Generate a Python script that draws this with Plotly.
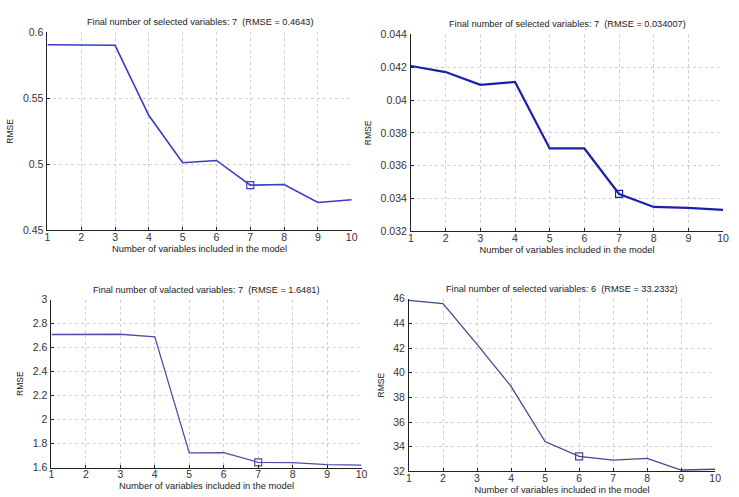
import plotly.graph_objects as go
from plotly.subplots import make_subplots

# ---- data ----
n_vars = [1, 2, 3, 4, 5, 6, 7, 8, 9, 10]
rmse_a = [0.5906, 0.5905, 0.5902, 0.5370, 0.5013, 0.5030, 0.4843, 0.4848, 0.4712, 0.4732]
rmse_b = [0.04207, 0.04170, 0.04092, 0.04110, 0.03705, 0.03705, 0.03428, 0.03349, 0.03343, 0.03331]
rmse_c = [2.710, 2.710, 2.712, 2.690, 1.722, 1.724, 1.644, 1.642, 1.625, 1.620]
rmse_d = [45.87, 45.61, 42.30, 38.90, 34.43, 33.23, 32.92, 33.06, 32.12, 32.18]
selected = [7, 7, 7, 6]

titles = [
    "Final number of selected variables: 7  (RMSE = 0.4643)",
    "Final number of selected variables: 7  (RMSE = 0.034007)",
    "Final number of valacted variables: 7  (RMSE = 1.6481)",
    "Final number of selected variables: 6  (RMSE = 33.2332)",
]
ytick_a = [0.45, 0.5, 0.55, 0.6]
ytext_a = ["0.45", "0.5", "0.55", "0.6"]
ytick_b = [0.032, 0.034, 0.036, 0.038, 0.04, 0.042, 0.044]
ytext_b = ["0.032", "0.034", "0.036", "0.038", "0.04", "0.042", "0.044"]
ytick_c = [1.6, 1.8, 2.0, 2.2, 2.4, 2.6, 2.8, 3.0]
ytext_c = ["1.6", "1.8", "2", "2.2", "2.4", "2.6", "2.8", "3"]
ytick_d = [32, 34, 36, 38, 40, 42, 44, 46]
ytext_d = ["32", "34", "36", "38", "40", "42", "44", "46"]
yranges = [[0.45, 0.6], [0.032, 0.044], [1.6, 3.0], [32, 46]]
xlabel = "Number of variables included in the model"
ylabel = "RMSE"

series = [rmse_a, rmse_b, rmse_c, rmse_d]
yticks = [(ytick_a, ytext_a), (ytick_b, ytext_b), (ytick_c, ytext_c), (ytick_d, ytext_d)]
colors = ["#3b3cc4", "#1c1faa", "#4d4fa8", "#45478f"]
widths = [1.6, 2.2, 1.3, 1.3]

W, H = 739, 497
# plot-area pixel boxes (left, right, top, bottom)
boxes = [(45, 353, 27, 230), (413, 729, 29, 231), (49, 363, 301, 473), (411, 721, 300, 477)]

fig = make_subplots(rows=2, cols=2)
font = "Liberation Sans, Arial, sans-serif"

for i, ys in enumerate(series):
    r, c = i // 2 + 1, i % 2 + 1
    fig.add_trace(go.Scatter(x=n_vars, y=ys, mode="lines",
                             line=dict(color=colors[i], width=widths[i]),
                             showlegend=False), row=r, col=c)
    k = selected[i]
    fig.add_trace(go.Scatter(x=[n_vars[k - 1]], y=[ys[k - 1]], mode="markers",
                             marker=dict(symbol="square-open", size=7,
                                         color=colors[i], line=dict(width=1.2)),
                             showlegend=False), row=r, col=c)
    l, rr, t, b = boxes[i]
    fig.update_xaxes(domain=[l / W, rr / W], range=[1, 10], tickvals=n_vars,
                     showgrid=True, gridcolor="#cfcfcf", griddash="dot", gridwidth=1,
                     showline=True, linecolor="#222", linewidth=1, zeroline=False,
                     ticks="inside", ticklen=3, tickcolor="#222",
                     ticklabelstandoff=-3, ticklabeloverflow="allow",
                     tickfont=dict(size=10.5, color="#333", family=font),
                     title=dict(text=xlabel, standoff=0,
                                font=dict(size=9.4, color="#222", family=font)),
                     row=r, col=c)
    tv, tt = yticks[i]
    fig.update_yaxes(domain=[1 - b / H, 1 - t / H], range=yranges[i],
                     tickvals=tv, ticktext=tt,
                     showgrid=True, gridcolor="#cfcfcf", griddash="dot", gridwidth=1,
                     showline=True, linecolor="#222", linewidth=1, zeroline=False,
                     ticks="inside", ticklen=3, tickcolor="#222",
                     ticklabelstandoff=1, ticklabeloverflow="allow",
                     tickfont=dict(size=10.5, color="#333", family=font),
                     title=dict(text=ylabel, standoff=7,
                                font=dict(size=8.5, color="#222", family=font)),
                     row=r, col=c)
    fig.add_annotation(text=titles[i], xref="paper", yref="paper",
                       x=(l + rr) / 2 / W, y=1 - (t - 3) / H,
                       xanchor="center", yanchor="bottom", showarrow=False,
                       font=dict(size=9.2, color="#222", family=font))

fig.update_layout(width=W, height=H, margin=dict(l=0, r=0, t=0, b=0),
                  paper_bgcolor="white", plot_bgcolor="white")
fig.write_html("out.html", config={"displayModeBar": False},
               post_script="document.body.style.margin='0';document.body.style.overflow='hidden';")
